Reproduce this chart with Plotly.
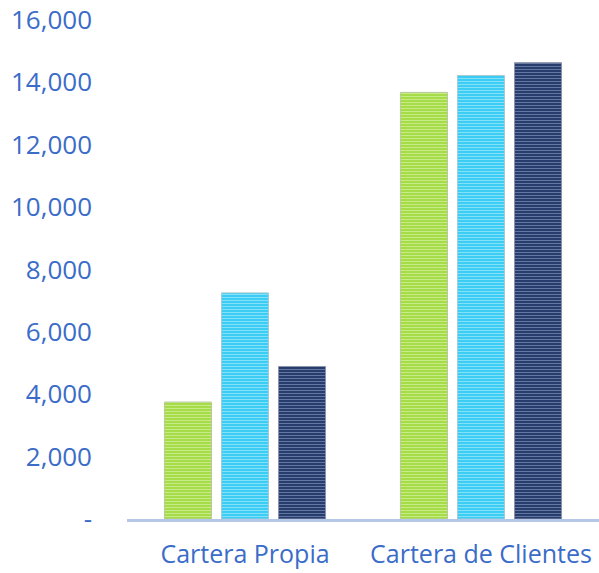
import plotly.graph_objects as go

categories = ["Cartera Propia", "Cartera de Clientes"]
series_a = [3750, 13680]
series_b = [7250, 14220]
series_c = [4890, 14630]
tick_values = [0, 2000, 4000, 6000, 8000, 10000, 12000, 14000, 16000]
tick_labels = ["-", "2,000", "4,000", "6,000", "8,000", "10,000", "12,000", "14,000", "16,000"]

styles = [
    ("#a6dc48", "rgba(236,250,205,0.95)", "#b9c9a0"),
    ("#3ccdf4", "rgba(208,244,253,0.95)", "#a9c9d4"),
    ("#263d6e", "rgba(168,184,216,0.95)", "#8a93a8"),
]

fig = go.Figure()
for vals, (bg, fg, ln) in zip([series_a, series_b, series_c], styles):
    fig.add_trace(go.Bar(
        x=categories, y=vals,
        marker=dict(
            color=bg,
            line=dict(color=ln, width=1),
            pattern=dict(shape="-", fgcolor=fg, bgcolor=bg, size=3, solidity=0.34),
        ),
        showlegend=False,
    ))

fig.update_layout(
    width=599, height=573,
    margin=dict(l=127, r=0, t=20, b=54, autoexpand=False),
    paper_bgcolor="white", plot_bgcolor="white",
    barmode="group", bargap=0.275, bargroupgap=0.175,
    font=dict(family="Open Sans", color="#3a6cc8", size=26),
    xaxis=dict(showgrid=False, showline=True, linecolor="#b4c7e7", linewidth=3,
               ticks="", ticklabelstandoff=11, tickfont=dict(size=25),
               automargin=False),
    yaxis=dict(range=[0, 16000], tickvals=tick_values, ticktext=tick_labels,
               showgrid=False, zeroline=False, showline=False, ticks="",
               ticklabelstandoff=34, ticklabeloverflow="allow",
               automargin=False, tickfont=dict(size=26)),
)

fig.write_html("out.html", config={"displayModeBar": False},
               post_script="document.body.style.margin='0';")
